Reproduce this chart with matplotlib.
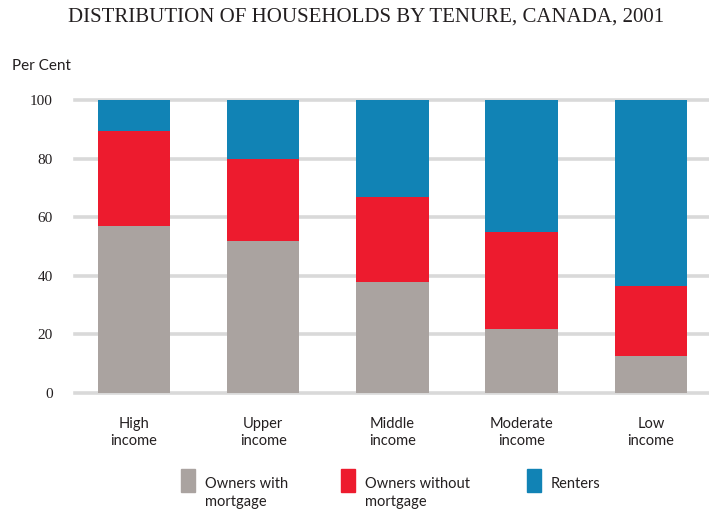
import numpy as np
import matplotlib
matplotlib.use('Agg')
import matplotlib.pyplot as plt
from matplotlib.patches import Rectangle

categories = ["High\nincome", "Upper\nincome", "Middle\nincome", "Moderate\nincome", "Low\nincome"]
series_names = ["Owners with\nmortgage", "Owners without\nmortgage", "Renters"]
with_mortgage = [57, 52, 38, 22, 12.5]
without_mortgage = [32.5, 28, 29, 33, 24]
renters = [10.5, 20, 33, 45, 63.5]
y_ticks = [0, 20, 40, 60, 80, 100]

colors = ["#aaa3a0", "#ed1b2e", "#1183b5"]
text_color = "#231f20"
sans = ["Lato", "DejaVu Sans"]
serif = ["Liberation Serif", "DejaVu Serif"]

fig = plt.figure(figsize=(7.09, 5.11), dpi=100)
ax = fig.add_axes([75 / 709, 1 - 393 / 511, 634 / 709, 293 / 511])

x = np.arange(len(categories))
bottom = np.zeros(len(categories))
for vals, col in zip([with_mortgage, without_mortgage, renters], colors):
    ax.bar(x, vals, width=0.56, bottom=bottom, color=col, zorder=3)
    bottom += np.array(vals)

for t in y_ticks:
    ax.axhline(t, color="#d9d9d9", lw=2.6, zorder=1, clip_on=False)

ax.set_xlim(-0.457, 4.45)
ax.set_ylim(0, 100)
ax.set_yticks(y_ticks)
ax.set_yticklabels([str(t) for t in y_ticks], family=serif, fontsize=11, color=text_color)
ax.set_xticks(x)
ax.set_xticklabels(categories, family=sans, fontsize=10.5, color=text_color, linespacing=1.35)
ax.tick_params(axis="y", length=0, pad=16)
ax.tick_params(axis="x", length=0, pad=17)
for s in ax.spines.values():
    s.set_visible(False)

fig.text(366 / 709, 1 - 17 / 511, "DISTRIBUTION OF HOUSEHOLDS BY TENURE, CANADA, 2001",
         ha="center", va="center", family=serif, fontsize=15, color=text_color)
fig.text(12 / 709, 1 - 66 / 511, "Per Cent", ha="left", va="center",
         family=sans, fontsize=11, color=text_color)

# legend
leg_x = [181, 341, 527]
for name, col, lx in zip(series_names, colors, leg_x):
    fig.patches.append(Rectangle((lx / 709, 1 - 492 / 511), 14 / 709, 23 / 511,
                                 transform=fig.transFigure, color=col))
    fig.text((lx + 24) / 709, 1 - 477 / 511, name, ha="left", va="top",
             family=sans, fontsize=10.5, color=text_color, linespacing=1.35)

fig.savefig("out.png", dpi=100)
